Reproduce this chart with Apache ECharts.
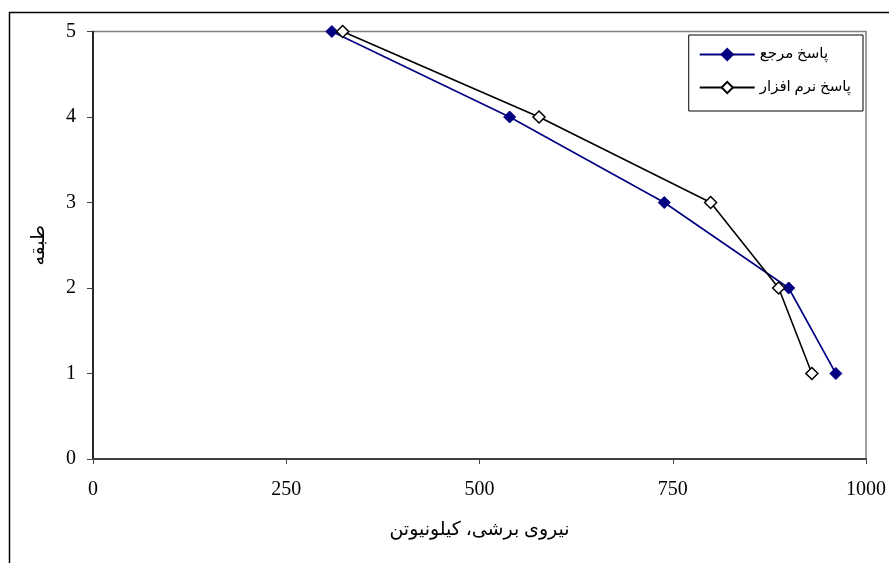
<!DOCTYPE html>
<html><head><meta charset="utf-8">
<script src="https://cdn.jsdelivr.net/npm/echarts@6/dist/echarts.min.js"></script>
<style>html,body{margin:0;padding:0;background:#fff}#c{width:889px;height:563px}</style>
</head><body><div id="c"></div>
<script>
const floors = [5, 4, 3, 2, 1];
const referenceShear = [309, 539, 739, 900, 961];
const softwareShear = [323, 577, 799, 887, 930];
const seriesNames = ['پاسخ مرجع', 'پاسخ نرم افزار'];
const xAxisTitle = 'نیروی برشی، کیلونیوتن';
const yAxisTitle = 'طبقه';

const font = '"Liberation Serif", "DejaVu Serif", "DejaVu Sans", serif';
const chart = echarts.init(document.getElementById('c'), null, {renderer: 'canvas'});
chart.setOption({
  animation: false,
  backgroundColor: '#fff',
  textStyle: {fontFamily: font},
  graphic: [{
    type: 'rect', left: 7, top: 10, silent: true, z: -1,
    shape: {x: 0.5, y: 0.5, width: 1000, height: 1000},
    style: {fill: 'none', stroke: '#000', lineWidth: 1.5}
  }],
  grid: {left: 93, top: 31.5, right: 23, bottom: 104, show: true, borderColor: '#808080', borderWidth: 1.5, backgroundColor: 'transparent'},
  legend: {
    right: 26, top: 35, orient: 'vertical', itemWidth: 55, itemHeight: 14, itemGap: 18,
    padding: [12, 12, 16, 10], borderColor: '#000', borderWidth: 1, borderRadius: 0,
    textStyle: {fontFamily: font, fontSize: 15, color: '#000'},
    data: seriesNames
  },
  xAxis: {
    type: 'value', min: 0, max: 1000, interval: 250,
    name: xAxisTitle, nameLocation: 'middle', nameGap: 62,
    nameTextStyle: {fontFamily: font, fontSize: 19, color: '#000'},
    axisLine: {show: true, lineStyle: {color: '#404040', width: 2}},
    axisTick: {show: true, length: 5, lineStyle: {color: '#404040'}},
    axisLabel: {fontFamily: font, fontSize: 20, color: '#000', margin: 21, formatter: v => String(v)},
    splitLine: {show: false}
  },
  yAxis: {
    type: 'value', min: 0, max: 5, interval: 1,
    name: yAxisTitle, nameLocation: 'middle', nameGap: 44, nameRotate: 90,
    nameTextStyle: {fontFamily: font, fontSize: 19, color: '#000'},
    axisLine: {show: true, lineStyle: {color: '#000', width: 1.5}},
    axisTick: {show: true, length: 6, lineStyle: {color: '#404040'}},
    axisLabel: {fontFamily: font, fontSize: 20, color: '#000', margin: 17},
    splitLine: {show: false}
  },
  series: [
    {
      name: seriesNames[0], type: 'line',
      data: referenceShear.map((v, i) => [v, floors[i]]),
      symbol: 'diamond', symbolSize: 12, showAllSymbol: true,
      lineStyle: {color: '#000080', width: 1.6},
      itemStyle: {color: '#000080', borderColor: '#000080', borderWidth: 1},
      z: 3
    },
    {
      name: seriesNames[1], type: 'line',
      data: softwareShear.map((v, i) => [v, floors[i]]),
      symbol: 'diamond', symbolSize: 12, showAllSymbol: true,
      lineStyle: {color: '#000', width: 1.6},
      itemStyle: {color: '#fff', borderColor: '#000', borderWidth: 1.5},
      z: 4
    }
  ]
});
</script></body></html>
